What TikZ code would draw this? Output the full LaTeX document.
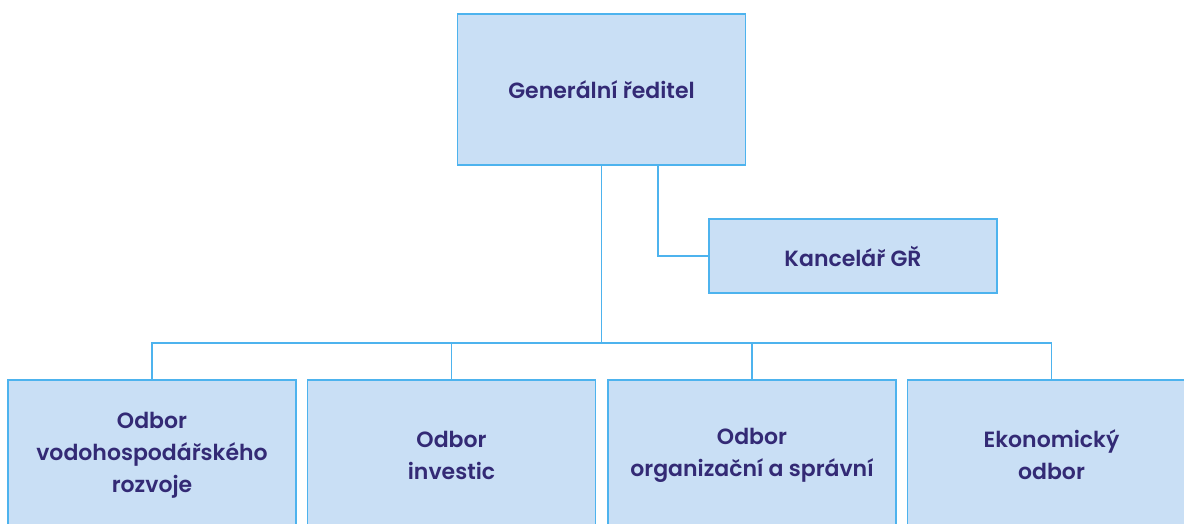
\documentclass[tikz,border=0pt]{standalone}
\usepackage{fontspec}
\setmainfont{Poppins}[BoldFont={Poppins SemiBold}]
\usetikzlibrary{positioning,calc}
\definecolor{boxfill}{HTML}{C9DFF5}
\definecolor{boxline}{HTML}{4DB3EE}
\definecolor{boxtext}{HTML}{332A75}
\begin{document}
\begin{tikzpicture}[x=1pt,y=-1pt,
    unit/.style={draw=boxline,fill=boxfill,line width=1.2pt,text=boxtext,inner sep=0pt,
      minimum width=288pt,align=center,font=\fontsize{22}{32}\selectfont\bfseries},
    link/.style={draw=boxline,line width=1.2pt}]
  \useasboundingbox (0,0) rectangle (1184,524);
  \clip (0,0) rectangle (1184,524);
  % vedeni
  \node[unit,minimum height=151pt] (gr) at (601.5,89.5) {Generální ředitel};
  \node[unit,minimum height=74pt] (kanc) at (853,256) {Kancelář GŘ};
  % odbory
  \begin{scope}[every node/.append style={unit,minimum height=150pt}]
    \node (vod) at (152,455) {Odbor\\vodohospodářského\\rozvoje};
    \node (inv) at (451.5,455) {Odbor\\investic};
    \node (org) at (752,455) {Odbor\\organizační a správní};
    \node (eko) at (1051.5,455) {Ekonomický\\odbor};
  \end{scope}
  \coordinate (bus) at (602,343);
  \coordinate (kl) at (658,165);
  \path[link] (gr.south) -- (gr.south |- bus);
  \path[link] (kl) |- (kanc.west);
  \path[link] (vod.north) |- (bus) -| (eko.north);
  \path[link] (inv.north) -- (inv.north |- bus);
  \path[link] (org.north) -- (org.north |- bus);
\end{tikzpicture}
\end{document}
